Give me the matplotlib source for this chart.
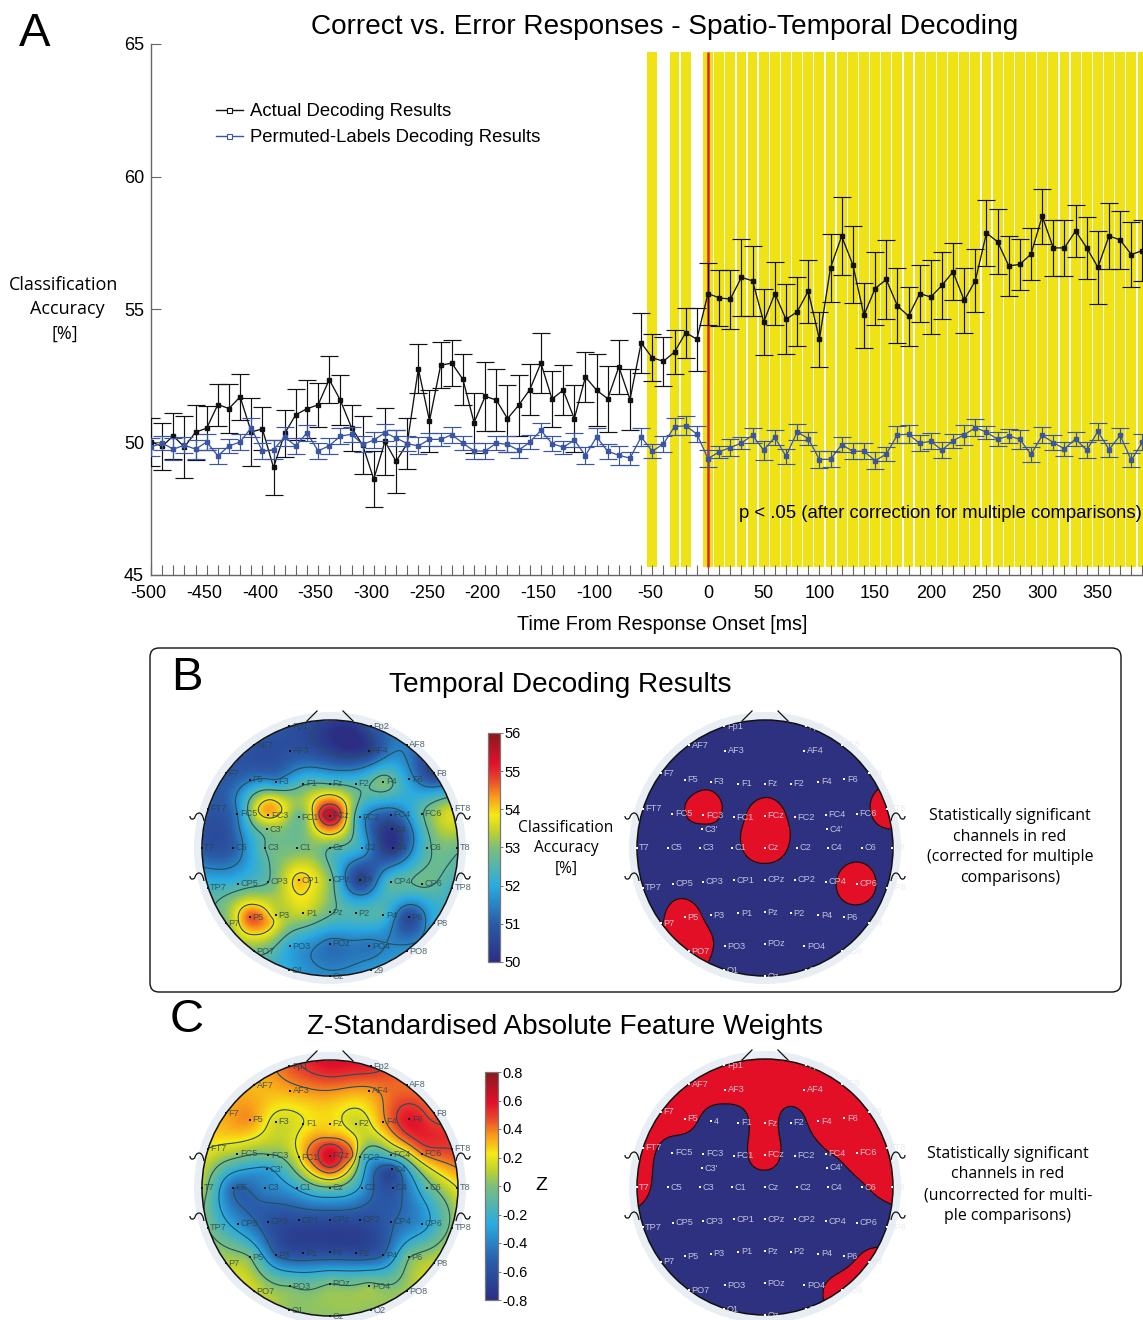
import numpy as np
import matplotlib
matplotlib.use("Agg")
import matplotlib.pyplot as plt
from matplotlib.colors import LinearSegmentedColormap, Normalize
from matplotlib.cm import ScalarMappable
from matplotlib.lines import Line2D
from matplotlib.patches import Circle, FancyBboxPatch, PathPatch
from matplotlib.path import Path
from matplotlib.transforms import ScaledTranslation

plt.rcParams['font.family'] = ['Liberation Sans', 'DejaVu Sans']
W, H = 1143, 1320

# ---------- Panel A data ----------
times = np.arange(-500, 400, 10)
actual_mean = [50.01,49.85,50.24,49.82,50.38,50.53,51.42,51.27,51.71,50.39,50.50,49.05,50.33,51.04,51.26,51.41,52.36,51.58,50.55,49.89,
               48.61,50.03,49.28,49.95,52.77,50.80,52.90,52.98,52.37,50.74,51.73,51.59,50.89,51.39,51.98,52.98,51.63,51.96,50.89,52.46,
               51.96,51.64,52.84,51.61,53.74,53.18,53.05,53.40,54.13,53.88,55.60,55.44,55.39,56.21,56.08,54.53,55.60,54.63,54.91,55.69,
               53.88,56.57,57.76,56.69,54.78,55.79,56.13,55.14,54.75,55.60,55.47,55.91,56.42,55.34,56.09,57.88,57.55,56.64,56.70,57.09,
               58.51,57.32,57.32,57.96,57.32,56.59,57.77,57.62,57.07,57.22]
actual_err = [.91,.89,.86,1.17,1.04,.83,.79,.94,.87,1.27,.81,1.04,.90,.97,1.10,.82,.89,.94,.87,1.08,
              1.05,1.26,1.19,.96,.92,1.16,.86,.88,.95,1.13,1.30,1.16,1.27,1.14,.97,1.13,1.06,.94,1.26,.93,
              1.36,1.24,1.02,1.14,1.14,.88,.93,.82,.94,1.19,1.17,1.06,1.11,1.46,1.31,1.26,1.19,1.32,1.30,1.19,
              1.04,1.29,1.46,1.46,1.22,1.39,1.48,1.41,1.11,1.07,1.40,1.26,1.07,1.23,1.17,1.23,1.22,1.14,.97,.99,
              1.04,1.04,1.05,.97,1.16,1.37,1.26,1.09,1.21,1.16]
perm_mean = [49.82,49.97,49.74,49.89,49.74,50.01,49.49,49.86,50.01,50.55,49.66,49.72,50.20,49.86,50.36,49.67,49.87,50.23,50.30,49.92,
             50.08,50.36,50.16,49.95,49.86,50.11,50.11,50.28,49.97,49.67,49.67,49.97,49.92,49.70,50.00,50.45,49.95,49.81,50.08,49.50,
             50.20,49.66,49.51,49.40,50.20,49.66,49.94,50.59,50.62,50.31,49.38,49.64,49.80,49.97,50.26,49.70,50.19,49.47,50.39,50.14,
             49.35,49.36,49.91,49.66,49.66,49.31,49.55,50.28,50.30,49.96,50.04,49.70,50.06,50.28,50.55,50.38,50.11,50.24,50.11,49.54,
             50.26,49.99,49.75,50.13,49.70,50.41,49.72,50.26,49.32,50.01]
perm_err = [.35,.28,.41,.31,.36,.29,.30,.28,.30,.36,.30,.35,.36,.30,.30,.31,.30,.31,.28,.30,
            .31,.31,.30,.28,.32,.25,.24,.30,.28,.31,.30,.26,.30,.28,.26,.28,.28,.24,.26,.31,
            .33,.29,.35,.24,.33,.26,.30,.31,.35,.31,.31,.23,.31,.24,.27,.35,.28,.29,.30,.23,
            .33,.31,.28,.30,.30,.32,.26,.32,.34,.30,.31,.30,.26,.37,.32,.25,.27,.26,.35,.27,
            .30,.29,.26,.26,.30,.31,.26,.28,.26,.31]
significant_times = [-50, -30, -20] + list(range(0, 400, 10))

# ---------- Electrode layout (x, y in head units, radius 384) and readings ----------
electrodes = {
 'Fp1':(-122,365),'Fp2':(122,365),'AF7':(-228,308),'AF3':(-120,292),'AF4':(118,292),'AF8':(230,310),
 'F7':(-312,225),'F5':(-240,205),'F3':(-162,198),'F1':(-80,193),'Fz':(0,192),'F2':(78,193),'F4':(160,198),'F6':(238,206),'F8':(312,225),
 'FT7':(-367,118),'FC5':(-278,103),'FC3':(-185,99),'FC1':(-93,93),'FCz':(0,97),'FC2':(90,93),'FC4':(183,100),'FC6':(275,103),'FT8':(365,118),
 "C3'":(-188,56),"C4'":(187,57),
 'T7':(-385,0),'C5':(-292,0),'C3':(-195,0),'C1':(-100,0),'Cz':(0,0),'C2':(97,0),'C4':(190,0),'C6':(290,0),'T8':(382,0),
 'TP7':(-367,-120),'CP5':(-277,-107),'CP3':(-185,-102),'CP1':(-93,-97),'CPz':(0,-96),'CP2':(90,-96),'CP4':(182,-102),'CP6':(275,-107),'TP8':(367,-120),
 'P7':(-312,-225),'P5':(-240,-208),'P3':(-163,-201),'P1':(-80,-195),'Pz':(0,-193),'P2':(78,-195),'P4':(160,-201),'P6':(237,-208),'P8':(312,-225),
 'PO7':(-228,-310),'PO3':(-120,-295),'POz':(0,-288),'PO4':(118,-295),'PO8':(230,-310),
 'O1':(-122,-367),'Oz':(0,-385),'O2':(122,-367)}

accuracy = {
 'Fp1':50.8,'Fp2':50.8,'AF7':50.8,'AF3':50.8,'AF4':50.4,'AF8':51.4,
 'F7':50.9,'F5':51.4,'F3':51.7,'F1':52.6,'Fz':52.7,'F2':52.5,'F4':53.0,'F6':51.8,'F8':50.4,
 'FT7':50.9,'FC5':51.5,'FC3':54.1,'FC1':52.8,'FCz':55.45,'FC2':52.0,'FC4':51.0,'FC6':52.6,'FT8':53.5,
 "C3'":53.0,"C4'":50.2,
 'T7':50.9,'C5':51.0,'C3':52.7,'C1':52.9,'Cz':52.7,'C2':52.0,'C4':50.2,'C6':52.5,'T8':52.8,
 'TP7':52.3,'CP5':52.3,'CP3':52.7,'CP1':54.1,'CPz':53.0,'CP2':50.4,'CP4':52.5,'CP6':52.8,'TP8':52.3,
 'P7':53.0,'P5':54.7,'P3':53.5,'P1':53.5,'Pz':52.8,'P2':52.5,'P4':52.4,'P6':50.6,'P8':52.0,
 'PO7':52.9,'PO3':52.0,'POz':51.3,'PO4':51.3,'PO8':51.7,
 'O1':52.0,'Oz':51.6,'O2':51.8}
accuracy_extra = [(55,345,49.9),
                  (-52,100,53.9),(50,100,53.9),(0,160,53.9),(0,40,53.9),
                  (-32,100,54.85),(32,100,54.85),(0,130,54.85),(0,70,54.85),
                  (-275,-215,53.9),(-170,-215,53.9),(-222,-170,53.9),(-222,-260,53.9),(-205,-215,54.5),
                  (-215,112,53.9),(-145,112,53.9),(-180,145,53.9),
                  (-50,-130,53.7),(-50,-50,53.4)]
weights = {
 'Fp1':0.45,'Fp2':0.55,'AF7':0.3,'AF3':0.33,'AF4':0.35,'AF8':0.42,
 'F7':0.33,'F5':0.36,'F3':0.15,'F1':0.2,'Fz':0.26,'F2':0.13,'F4':0.35,'F6':0.58,'F8':0.45,
 'FT7':0.2,'FC5':0.05,'FC3':-0.03,'FC1':0.2,'FCz':0.63,'FC2':-0.02,'FC4':-0.08,'FC6':0.38,'FT8':0.5,
 "C3'":-0.3,"C4'":-0.6,
 'T7':0.08,'C5':-0.48,'C3':-0.4,'C1':-0.25,'Cz':-0.05,'C2':-0.32,'C4':-0.58,'C6':-0.12,'T8':0.2,
 'TP7':-0.02,'CP5':-0.35,'CP3':-0.58,'CP1':-0.62,'CPz':-0.62,'CP2':-0.62,'CP4':-0.52,'CP6':-0.35,'TP8':0.03,
 'P7':0.1,'P5':-0.02,'P3':-0.5,'P1':-0.62,'Pz':-0.62,'P2':-0.62,'P4':-0.5,'P6':-0.03,'P8':0.12,
 'PO7':0.15,'PO3':-0.02,'POz':-0.02,'PO4':0.03,'PO8':0.06,
 'O1':0.03,'Oz':0.03,'O2':0.03}
weights_extra = [(0,375,0.6),(-35,97,0.5),(35,97,0.5),(0,132,0.5),(0,62,0.5),
                 (-68,97,0.38),(68,97,0.38),(0,165,0.3),(0,30,0.25)]
# channels significant (+1) or not (-1), with readings that sit near the border
sig_corrected = {'FC3':1.0,'FCz':1.0,'Cz':1.0,'FT8':1.0,'CP6':1.0,'P5':1.0,'PO7':1.2,'P7':-0.1,
                 'F3':-0.4,'FC5':-0.7,"C3'":-0.6,'Fz':-0.6,'FC1':-0.5,'FC2':-0.5,'C1':-0.5,'C2':-0.5,
                 'CP4':-0.6,'C6':-0.6,'TP8':-0.7,'P6':-0.7,'P3':-0.6,'PO3':-0.5,'CP5':-0.6,'FC6':-0.8}
sig_uncorrected = {n:1.0 for n in ['Fp1','Fp2','AF7','AF3','AF4','AF8','F7','F5','F4','F6','F8','Fz','FCz','FC6','FT7','FT8','T7','T8','P8','PO8']}
sig_uncorrected.update({'FC4':-0.2,'C6':-0.2,'P6':-0.9,'PO4':-0.6})

labels_b_left = {'CP2':'19','O2':'29',"C4'":'C4'}
labels_c_left = {"C4'":'C4'}
labels_c_right = {'F3':'4'}

cmap = LinearSegmentedColormap.from_list('topo', [
    (0.0, '#2B2E83'), (1/6, '#2A5CA8'), (2/6, '#29ABE2'), (3/6, '#7CBF7A'), (3.4/6, '#BDD02F'),
    (3.85/6, '#F7E914'), (4.3/6, '#F9A01B'), (4.8/6, '#E8452B'),
    (5.2/6, '#E3102C'), (1.0, '#8A1A1E')])

fig = plt.figure(figsize=(W/100, H/100), dpi=100, facecolor='white')

def px_rect(x0, y0, x1, y1):
    return [x0/W, 1-y1/H, (x1-x0)/W, (y1-y0)/H]

# ---------- Panel A ----------
ax = fig.add_axes(px_rect(151, 44, 1143, 575))
ax.set_xlim(-500, 390.5)
ax.set_ylim(45, 65)
ax.bar(significant_times, 19.4, bottom=45.3, width=8.8, color='#F0E315', linewidth=0, zorder=1)
ax.vlines(0, 45.3, 64.7, color='#E2202C', lw=1.8, zorder=2)
BLUE = '#3B55A5'
ax.errorbar(times, actual_mean, yerr=actual_err, color='#111111', lw=0.95, elinewidth=0.85, capsize=6.8, capthick=0.85,
            marker='s', ms=2.2, zorder=3)
ax.errorbar(times, perm_mean, yerr=perm_err, color=BLUE, lw=0.95, elinewidth=0.85, capsize=6.8, capthick=0.85,
            marker='s', ms=2.2, zorder=4)
for s in ('top', 'right'):
    ax.spines[s].set_visible(False)
for s in ('left', 'bottom'):
    ax.spines[s].set_color('#666666')
    ax.spines[s].set_linewidth(1.0)
ax.set_xticks(times)
ax.set_xticklabels([str(t) if t % 50 == 0 else '' for t in times], fontsize=13)
ax.set_yticks([45, 50, 55, 60, 65])
ax.tick_params(axis='x', direction='in', length=7, width=0.8, color='#666666', pad=7)
ax.tick_params(axis='y', direction='in', length=7, width=0.8, color='#666666', pad=5, labelsize=13)
shift = ScaledTranslation(-2.5/100, 0, fig.dpi_scale_trans)
for t, lab in zip(times, ax.get_xticklabels()):
    if t < 0:
        lab.set_transform(lab.get_transform() + shift)

# ---------- Overlay in pixel coordinates ----------
ov = fig.add_axes([0, 0, 1, 1], facecolor='none')
ov.set_axis_off()

def T(x, y, s, size, ha='center', va='center', font=None, **kw):
    if font:
        kw['family'] = font
    ov.text(x, y, s, fontsize=size, ha=ha, va=va, **kw)

handles = [Line2D([], [], color='#111111', lw=1, marker='s', ms=3.6, mfc='white', mew=0.8),
           Line2D([], [], color=BLUE, lw=1, marker='s', ms=3.6, mfc='white', mew=0.8)]

T(35, 34, 'A', 34)
T(665, 27, 'Correct vs. Error Responses - Spatio-Temporal Decoding', 20.2)
T(662, 624, 'Time From Response Onset [ms]', 14.2)
T(1142, 513, 'p < .05 (after correction for multiple comparisons)', 13.3, ha='right', zorder=6)
for y, s, x in [(285, 'Classification', 64), (309, 'Accuracy', 67), (334, '[%]', 65)]:
    T(x, y, s, 13, font='Open Sans')

ov.add_patch(FancyBboxPatch((150, 648), 971, 344, boxstyle='round,pad=0,rounding_size=9', fc='none', ec='#111111', lw=1.0))
T(187, 678, 'B', 34)
T(560, 685, 'Temporal Decoding Results', 20.2)
T(187, 1020, 'C', 34)
T(565, 1027, 'Z-Standardised Absolute Feature Weights', 20.05)
for y, s in [(828, 'Classification'), (848, 'Accuracy'), (869, '[%]')]:
    T(566, y, s, 11.2, font='Open Sans')
T(541, 1185, 'Z', 14)
for y, s in [(816, 'Statistically significant'), (837, 'channels in red'), (857, '(corrected for multiple'), (878, 'comparisons)')]:
    T(1010, y, s, 11.4, font='Open Sans')
for y, s in [(1154, 'Statistically significant'), (1174, 'channels in red'), (1195, '(uncorrected for multi-'), (1216, 'ple comparisons)')]:
    T(1008, y, s, 11.4, font='Open Sans')

names = list(electrodes)
pts = np.array([electrodes[n] for n in names], float) / 384.0

def spline(values, U, V, extra=()):
    P = pts
    vals = np.asarray(values, float)
    if len(extra):
        e = np.array(extra, float)
        P = np.vstack([P, e[:, :2] / 384.0])
        vals = np.r_[vals, e[:, 2]]
    def green(r):
        out = np.zeros_like(r)
        m = r > 0
        out[m] = r[m]**2 * (np.log(r[m]) - 1)
        return out
    d = np.linalg.norm(P[:, None] - P[None], axis=2)
    w = np.linalg.solve(green(d), vals)
    q = np.stack([U.ravel(), V.ravel()], axis=1)
    dq = np.linalg.norm(q[:, None] - P[None], axis=2)
    return (green(dq) @ w).reshape(U.shape)

u = np.linspace(-1, 1, 301)
v = np.linspace(1, -1, 301)
U, V = np.meshgrid(u, v)
R = 128.0

def head(cx, cy):
    ov.add_patch(Circle((cx, cy), 136, fc='#E8EEF3', ec='none', zorder=1))
    for side in (-1, 1):
        ov.plot([cx + side*23, cx + side*13], [cy - 127, cy - 137], color='#111111', lw=0.9, zorder=2)
        for yy in (-27, 33):
            ex = cx + side*126
            ey = cy + yy
            verts = [(ex, ey), (ex + side*2, ey - 12), (ex + side*8, ey - 8), (ex + side*9, ey - 4),
                     (ex + side*10, ey - 1), (ex + side*14, ey - 1), (ex + side*14, ey - 5)]
            codes = [Path.MOVETO, Path.CURVE4, Path.CURVE4, Path.CURVE4, Path.CURVE4, Path.CURVE4, Path.CURVE4]
            ov.add_patch(PathPatch(Path(verts, codes), fc='none', ec='#111111', lw=0.9, zorder=2))

def sensors(cx, cy, color, tcolor, overrides):
    for n, (x, y) in electrodes.items():
        px, py = cx + x/384*R, cy - y/384*R
        ov.plot(px, py, 's', color=color, ms=1.5, mew=0, zorder=6)
        ov.text(px + 2.5, py, overrides.get(n, n), fontsize=6.6, color=tcolor, ha='left', va='center', zorder=6, alpha=0.8)

def topo(cx, cy, values, vmin, vmax, levels, overrides, extra=()):
    head(cx, cy)
    Z = spline(values, U, V, extra)
    Z[U**2 + V**2 > 1.0] = np.nan
    clip = Circle((cx, cy), R, transform=ov.transData)
    im = ov.imshow(Z, extent=(cx-R, cx+R, cy+R, cy-R), cmap=cmap, vmin=vmin, vmax=vmax, origin='upper',
                   interpolation='bilinear', aspect='auto', zorder=3)
    im.set_clip_path(clip)
    cs = ov.contour(cx + U*R, cy - V*R, Z, levels=levels, colors='#24505A', linewidths=0.8,
                    linestyles='solid', zorder=4)
    cs.set_clip_path(clip)
    ov.add_patch(Circle((cx, cy), R, fc='none', ec='#111111', lw=1.1, zorder=5))
    sensors(cx, cy, '#111111', '#27424A', overrides)

def mask(cx, cy, sig, overrides):
    head(cx, cy)
    values = [sig.get(n, -1.0) for n in names]
    Z = spline(values, U, V)
    Z[U**2 + V**2 > 1.0] = np.nan
    clip = Circle((cx, cy), R, transform=ov.transData)
    ov.add_patch(Circle((cx, cy), R, fc='#2E3080', ec='none', zorder=3))
    cf = ov.contourf(cx + U*R, cy - V*R, Z, levels=[0, 1e3], colors=['#E30F26'], zorder=4)
    cf.set_clip_path(clip)
    cs = ov.contour(cx + U*R, cy - V*R, Z, levels=[0], colors='#111111', linewidths=0.9,
                    linestyles='solid', zorder=4.5)
    cs.set_clip_path(clip)
    ov.add_patch(Circle((cx, cy), R, fc='none', ec='#111111', lw=1.1, zorder=5))
    sensors(cx, cy, 'white', '#E4E8F2', overrides)

topo(330, 848, [accuracy[n] for n in names], 50, 56, [50.5, 51.5, 52.7, 53.9, 54.8, 55.25], labels_b_left, accuracy_extra)
mask(765, 848, sig_corrected, {})
topo(330, 1188, [weights[n] for n in names], -0.8, 0.8, [-0.5, -0.27, -0.02, 0.2, 0.38, 0.5], labels_c_left, weights_extra)
mask(765, 1187, sig_uncorrected, labels_c_right)

ov.set_xlim(0, W)
ov.set_ylim(H, 0)

ax.legend(handles, ['Actual Decoding Results', 'Permuted-Labels Decoding Results'], loc='upper left',
          bbox_to_anchor=(216, 103), bbox_transform=ov.transData, frameon=False, fontsize=13.3,
          handlelength=1.46, handletextpad=0.38, labelspacing=0.5, borderpad=0, borderaxespad=0)

def cbar(x0, y0, x1, y1, vmin, vmax, ticks, labels):
    cax = fig.add_axes(px_rect(x0, y0, x1, y1))
    cb = fig.colorbar(ScalarMappable(Normalize(vmin, vmax), cmap), cax=cax, ticks=ticks)
    cb.ax.set_yticklabels(labels)
    cb.ax.tick_params(length=2, width=0.7, color='#777777', labelsize=10.5, pad=1)
    cb.outline.set_edgecolor('#777777')
    cb.outline.set_linewidth(0.9)

cbar(488, 733, 500, 962, 50, 56, [50, 51, 52, 53, 54, 55, 56], ['50', '51', '52', '53', '54', '55', '56'])
cbar(485, 1072, 498, 1300, -0.8, 0.8, [-.8, -.6, -.4, -.2, 0, .2, .4, .6, .8],
     ['-0.8', '-0.6', '-0.4', '-0.2', '0', '0.2', '0.4', '0.6', '0.8'])

fig.savefig('out.png', dpi=100)
